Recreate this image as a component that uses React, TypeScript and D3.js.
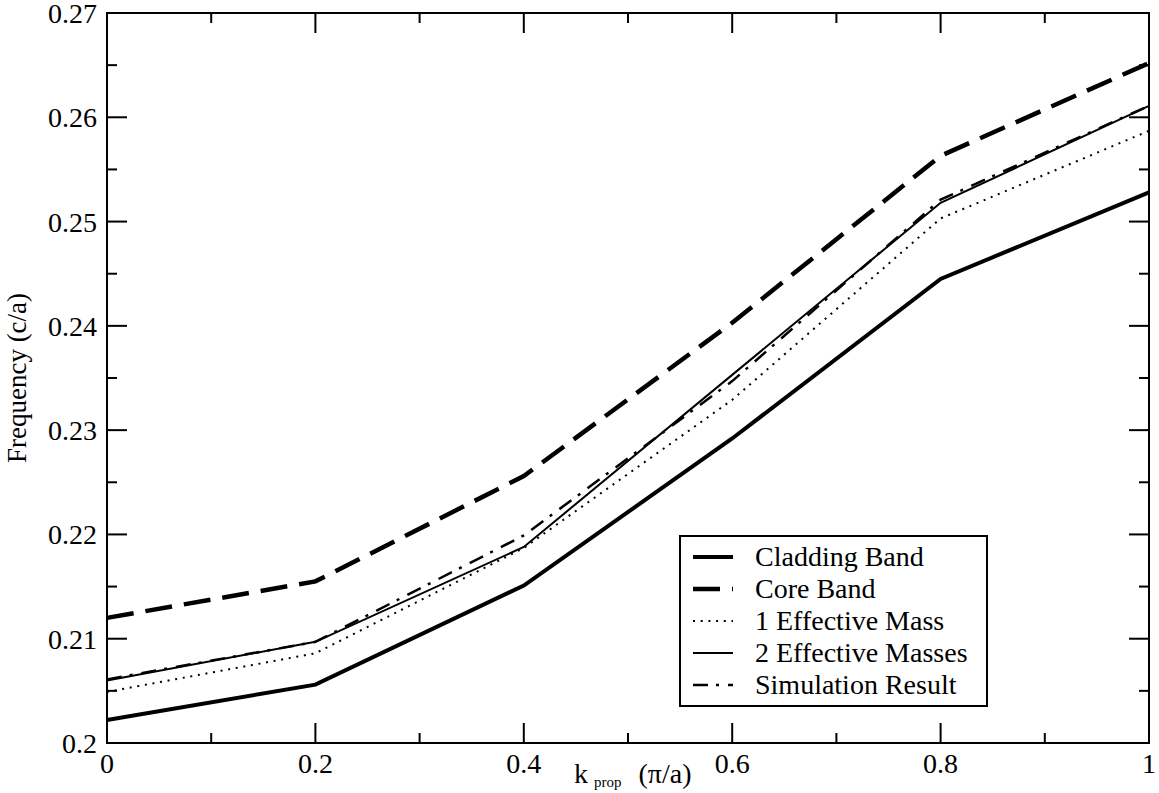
import React, { useEffect, useRef } from 'react';
import * as d3 from 'd3';

const kValues = [0, 0.2, 0.4, 0.6, 0.8, 1];
const claddingBand = [0.2022, 0.2056, 0.2151, 0.2292, 0.2445, 0.2528];
const coreBand = [0.2120, 0.2155, 0.2256, 0.2403, 0.2563, 0.2652];
const oneEffMass = [0.2049, 0.2086, 0.2187, 0.2329, 0.2503, 0.2587];
const twoEffMasses = [0.2060, 0.2097, 0.2188, 0.2353, 0.2518, 0.2611];
const simulation = [0.2061, 0.2097, 0.2199, 0.2347, 0.2521, 0.2611];

const xTickLabels = ['0', '0.2', '0.4', '0.6', '0.8', '1'];
const yTickLabels = ['0.2', '0.21', '0.22', '0.23', '0.24', '0.25', '0.26', '0.27'];
const seriesNames = ['Cladding Band', 'Core Band', '1 Effective Mass', '2 Effective Masses', 'Simulation Result'];

function App() {
    const ref = useRef<SVGSVGElement>(null);

    useEffect(() => {
        const svg = d3.select(ref.current);
        svg.selectAll('*').remove();

        const width = 1159;
        const height = 793;
        const left = 107, right = 1149, top = 13, bottom = 743;
        const font = 'Liberation Serif, DejaVu Serif, serif';

        const x = d3.scaleLinear().domain([0, 1]).range([left, right]);
        const y = d3.scaleLinear().domain([0.2, 0.27]).range([bottom, top]);

        svg.attr('width', width).attr('height', height)
            .attr('font-family', font)
            .style('display', 'block')
            .style('position', 'absolute')
            .style('left', 0).style('top', 0)
            .style('background', 'white');

        // series styles: width, dasharray
        const styles = [
            { w: 4, dash: null },
            { w: 4.5, dash: '27,12' },
            { w: 2, dash: '2,5.7' },
            { w: 2, dash: null },
            { w: 2.5, dash: '15,8,3,9' },
        ];
        const allSeries = [claddingBand, coreBand, oneEffMass, twoEffMasses, simulation];

        const line = d3.line<number>()
            .x((d, i) => x(kValues[i]))
            .y(d => y(d));

        const plot = svg.append('g');
        allSeries.forEach((vals, i) => {
            plot.append('path')
                .datum(vals)
                .attr('d', line)
                .attr('fill', 'none')
                .attr('stroke', 'black')
                .attr('stroke-width', styles[i].w)
                .attr('stroke-dasharray', styles[i].dash)
                .attr('stroke-linejoin', 'miter');
        });

        // ticks (major + minor), mirrored on all four sides
        const axes = svg.append('g').attr('stroke', 'black').attr('stroke-width', 2);
        const xMinor = d3.range(0.1, 1, 0.2);
        const yMinor = d3.range(0.205, 0.27, 0.01);
        kValues.forEach(v => {
            axes.append('line').attr('x1', x(v)).attr('x2', x(v)).attr('y1', bottom).attr('y2', bottom - 20);
            axes.append('line').attr('x1', x(v)).attr('x2', x(v)).attr('y1', top).attr('y2', top + 20);
        });
        xMinor.forEach(v => {
            axes.append('line').attr('x1', x(v)).attr('x2', x(v)).attr('y1', bottom).attr('y2', bottom - 10);
            axes.append('line').attr('x1', x(v)).attr('x2', x(v)).attr('y1', top).attr('y2', top + 10);
        });
        yTickLabels.forEach(t => {
            const v = +t;
            axes.append('line').attr('x1', left).attr('x2', left + 20).attr('y1', y(v)).attr('y2', y(v));
            axes.append('line').attr('x1', right).attr('x2', right - 20).attr('y1', y(v)).attr('y2', y(v));
        });
        yMinor.forEach(v => {
            axes.append('line').attr('x1', left).attr('x2', left + 10).attr('y1', y(v)).attr('y2', y(v));
            axes.append('line').attr('x1', right).attr('x2', right - 10).attr('y1', y(v)).attr('y2', y(v));
        });
        axes.append('rect')
            .attr('x', left).attr('y', top)
            .attr('width', right - left).attr('height', bottom - top)
            .attr('fill', 'none');

        // tick labels
        const labels = svg.append('g').attr('fill', 'black');
        xTickLabels.forEach((t, i) => {
            labels.append('text')
                .attr('x', x(kValues[i])).attr('y', 773)
                .attr('text-anchor', 'middle')
                .attr('font-size', 28)
                .text(t);
        });
        yTickLabels.forEach(t => {
            labels.append('text')
                .attr('x', 97).attr('y', y(+t) + 10)
                .attr('text-anchor', 'end')
                .attr('font-size', 28)
                .text(t);
        });

        // axis titles
        const xt = labels.append('text')
            .attr('x', 574).attr('y', 783)
            .attr('font-size', 28);
        xt.append('tspan').text('k');
        xt.append('tspan').attr('dx', 6).attr('dy', 4).attr('font-size', 15).text('prop');
        xt.append('tspan').attr('dx', 17).attr('dy', -4).text('(π/a)');

        labels.append('text')
            .attr('transform', `translate(26, ${(top + bottom) / 2}) rotate(-90)`)
            .attr('text-anchor', 'middle')
            .attr('font-size', 27)
            .text('Frequency (c/a)');

        // legend
        const legend = svg.append('g');
        legend.append('rect')
            .attr('x', 680).attr('y', 536)
            .attr('width', 307).attr('height', 170)
            .attr('fill', 'white')
            .attr('stroke', 'black')
            .attr('stroke-width', 2);
        seriesNames.forEach((name, i) => {
            const ly = 557 + i * 32;
            legend.append('line')
                .attr('x1', 693).attr('x2', 733)
                .attr('y1', ly).attr('y2', ly)
                .attr('stroke', 'black')
                .attr('stroke-width', styles[i].w)
                .attr('stroke-dasharray', styles[i].dash);
            legend.append('text')
                .attr('x', 755).attr('y', ly + 9)
                .attr('font-size', 28)
                .text(name);
        });
    }, []);

    return <svg ref={ref}></svg>;
}

export default App;
